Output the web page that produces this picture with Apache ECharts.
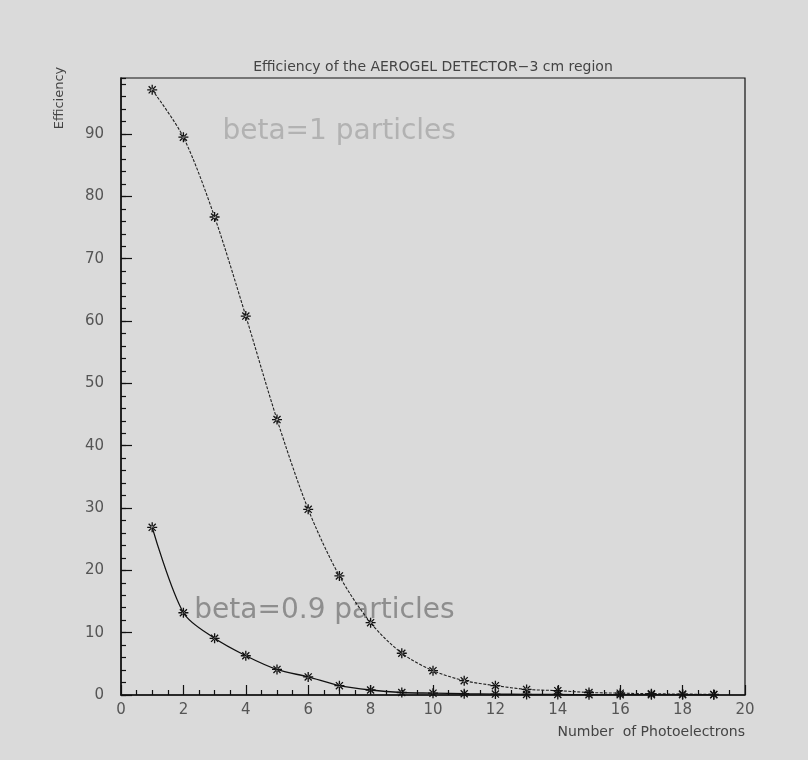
<!DOCTYPE html>
<html>
<head>
<meta charset="utf-8">
<script src="https://cdn.jsdelivr.net/npm/echarts@6/dist/echarts.min.js"></script>
<style>
html,body{margin:0;padding:0;background:#dadada;}
#c{width:808px;height:760px;}
</style>
</head>
<body>
<div id="c"></div>
<script>
// ---- data ----
var photoelectrons = [1,2,3,4,5,6,7,8,9,10,11,12,13,14,15,16,17,18,19];
var effBeta1  = [97.1,89.5,76.7,60.8,44.2,29.8,19.1,11.6,6.7,3.9,2.3,1.5,0.9,0.7,0.4,0.3,0.2,0.15,0.1];
var effBeta09 = [26.9,13.2,9.1,6.3,4.1,2.9,1.5,0.8,0.4,0.3,0.2,0.15,0.1,0.1,0.05,0.05,0.05,0.05,0.05];
var titleText = 'Efficiency of the AEROGEL DETECTOR\u22123 cm region';
var xName = 'Number  of Photoelectrons';
var yName = 'Efficiency';
var label1 = 'beta=1 particles';
var label09 = 'beta=0.9 particles';
var label1Pos = [3.25, 90.4];
var label09Pos = [2.35, 13.6];

var starPath = 'path://M-0.13,-1 L0.13,-1 L0.13,1 L-0.13,1 Z ' +
  'M-1,-0.13 L1,-0.13 L1,0.13 L-1,0.13 Z ' +
  'M-0.80,-0.62 L0.62,0.80 L0.80,0.62 L-0.62,-0.80 Z ' +
  'M-0.62,0.80 L0.80,-0.62 L0.62,-0.80 L-0.80,0.62 Z';

function pairs(xs, ys){ return xs.map(function(x,i){ return [x, ys[i]]; }); }

var chart = echarts.init(document.getElementById('c'), null, {renderer:'canvas'});
var labelColor = '#555';
var fontFam = 'DejaVu Sans, sans-serif';

var option = {
  backgroundColor: '#dadada',
  animation: false,
  grid: {left:121, right:63, top:78, bottom:65, show:true, borderColor:'#111', borderWidth:1.2, backgroundColor:'transparent'},
  xAxis: {
    type:'value', min:0, max:20, interval:2,
    axisLine:{show:true, lineStyle:{color:'#111', width:1.5}},
    axisTick:{show:true, inside:true, length:10, lineStyle:{color:'#111', width:1.2}},
    minorTick:{show:true, splitNumber:4, length:5, lineStyle:{color:'#111', width:1.2}},
    splitLine:{show:false},
    axisLabel:{color:labelColor, fontSize:15, fontFamily:fontFam, margin:8}
  },
  yAxis: [{
    type:'value', min:0, max:99, interval:10,
    axisLine:{show:true, lineStyle:{color:'#111', width:1.5}},
    axisTick:{show:true, inside:true, length:11, lineStyle:{color:'#111', width:1.2}},
    splitLine:{show:false},
    axisLabel:{color:labelColor, fontSize:15, fontFamily:fontFam, margin:17, showMaxLabel:false}
  },{
    type:'value', min:0, max:99, interval:2, position:'left',
    axisLine:{show:false},
    axisTick:{show:true, inside:true, length:5, lineStyle:{color:'#111', width:1.2}},
    splitLine:{show:false},
    axisLabel:{show:false}
  }],
  series: [{
    name:'beta=1', type:'line', data:pairs(photoelectrons, effBeta1),
    smooth:0.3,
    symbol:starPath, symbolSize:10,
    itemStyle:{color:'#111'},
    lineStyle:{color:'#222', width:1.1, type:[3,1.5]}
  },{
    name:'beta=0.9', type:'line', data:pairs(photoelectrons, effBeta09),
    smooth:0.3,
    symbol:starPath, symbolSize:10,
    itemStyle:{color:'#111'},
    lineStyle:{color:'#111', width:1.3}
  }]
};
chart.setOption(option);

var p1 = chart.convertToPixel({gridIndex:0}, label1Pos);
var p09 = chart.convertToPixel({gridIndex:0}, label09Pos);
var xEnd = chart.convertToPixel({gridIndex:0}, [20, 0]);
var yTop = chart.convertToPixel({gridIndex:0}, [0, 99]);
var xMid = chart.convertToPixel({gridIndex:0}, [10, 99]);

chart.setOption({
  graphic: [
    {type:'text', x:xMid[0], y:yTop[1]-11, style:{text:titleText, fill:'#444', font:'14px ' + fontFam, textAlign:'center', textVerticalAlign:'middle'}},
    {type:'text', x:xEnd[0], y:xEnd[1]+37, style:{text:xName, fill:'#444', font:'14px ' + fontFam, textAlign:'right', textVerticalAlign:'middle'}},
    {type:'text', x:60, y:yTop[1]+20, rotation:Math.PI/2, style:{text:yName, fill:'#444', font:'13px ' + fontFam, textAlign:'center', textVerticalAlign:'middle'}},
    {type:'text', x:p1[0], y:p1[1], style:{text:label1, fill:'#b2b2b2', font:'28px ' + fontFam, textAlign:'left', textVerticalAlign:'middle'}},
    {type:'text', x:p09[0], y:p09[1], style:{text:label09, fill:'#8e8e8e', font:'28px ' + fontFam, textAlign:'left', textVerticalAlign:'middle'}}
  ]
});
</script>
</body>
</html>
